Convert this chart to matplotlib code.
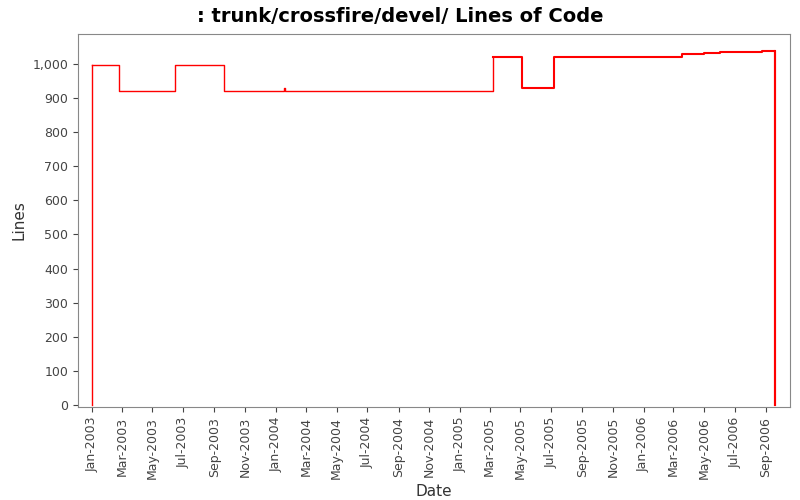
import matplotlib
matplotlib.use("Agg")
import matplotlib.pyplot as plt
import matplotlib.dates as mdates
import pandas as pd

dates = ["2003-01-01","2003-02-23","2003-06-15","2003-09-21","2004-01-18","2004-01-19","2004-01-20",
         "2005-03-07","2005-05-04","2005-07-06","2006-03-19","2006-05-01","2006-05-04","2006-06-01",
         "2006-08-25","2006-09-19"]
lines = [996,920,996,920,930,920,920,1020,929,1022,1028,1033,1031,1036,1038,0]

d = pd.to_datetime(dates)
fig = plt.figure(figsize=(8,5), dpi=100)
ax = fig.add_axes([0.0975, 0.186, 0.89, 0.746])
ax.step(d[:8], [0]+lines[:7] if False else lines[:8], where="post", color="red", lw=1.0)
ax.plot([d[0], d[0]], [0, lines[0]], color="red", lw=1.0)
ax.step(d[7:], lines[7:], where="post", color="red", lw=1.5)
ax.plot([d[-1], d[-1]], [lines[-2], 0], color="red", lw=1.5)
ax.set_xlim(pd.Timestamp("2002-12-04"), pd.Timestamp("2006-10-19"))
ax.set_ylim(-6, 1088)
ax.set_yticks(range(0, 1001, 100))
ax.set_yticklabels([f"{v:,}" for v in range(0, 1001, 100)])
ticks = pd.date_range("2003-01-01", "2006-09-01", freq="2MS")
ax.set_xticks(ticks)
ax.set_xticklabels([t.strftime("%b-%Y") for t in ticks], rotation=90)
for s in ax.spines.values():
    s.set_color("#888888")
ax.tick_params(colors="#444444", labelsize=9)
ax.set_xlabel("Date", fontsize=11, color="#333333")
ax.set_ylabel("Lines", fontsize=11, color="#333333")
fig.suptitle(": trunk/crossfire/devel/ Lines of Code", fontsize=14, fontweight="bold", y=0.985)
fig.savefig("out.png", dpi=100)
